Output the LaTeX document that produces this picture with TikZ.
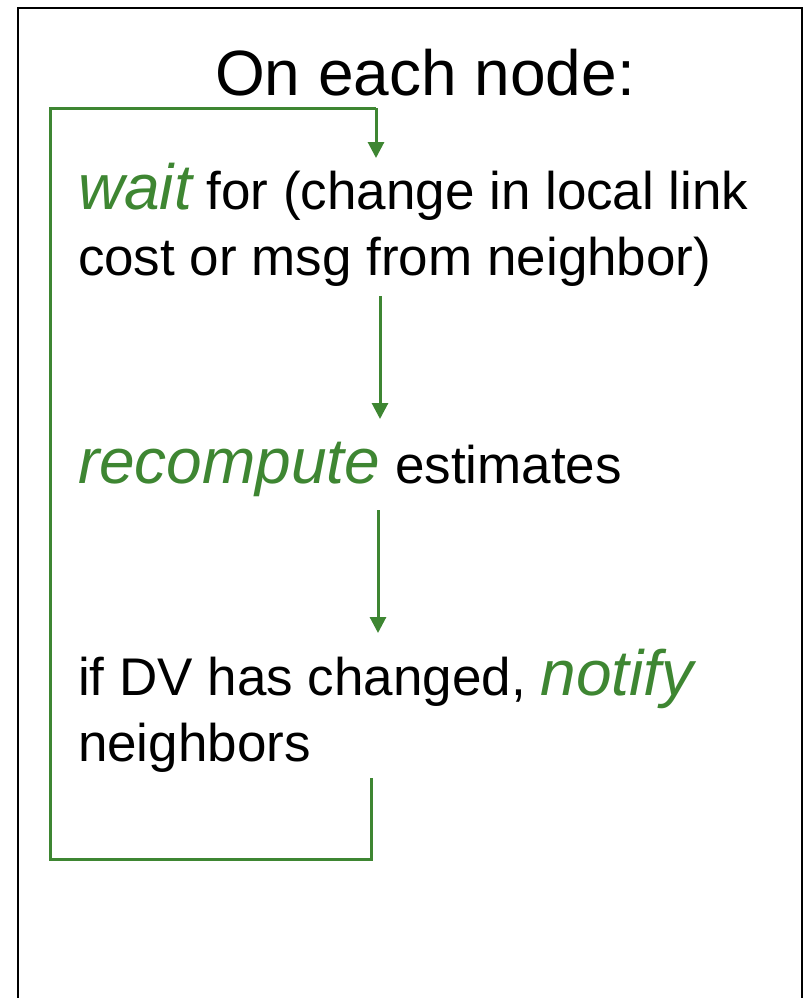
\documentclass[tikz,border=0pt]{standalone}
\usepackage{fontspec}
\setmainfont{Liberation Sans}
\usetikzlibrary{arrows.meta}
\definecolor{grn}{RGB}{62,134,50}
\tikzset{
  txt/.style={anchor=base west, inner sep=0pt, outer sep=0pt, align=left},
  flow/.style={draw=grn, line width=3pt, -{Triangle[width=16pt,length=16pt]}},
  loopline/.style={draw=grn, line width=3pt},
  frame/.style={draw=black, line width=1.5pt}
}
\newcommand{\bodyfont}{\fontsize{53}{66}\selectfont}
\newcommand{\hl}[1]{{\color{grn}\fontsize{64}{66}\selectfont\itshape #1}}
\begin{document}
\begin{tikzpicture}[x=1pt,y=-1pt]
\useasboundingbox (0,0) rectangle (804,998);
% frame (open at the bottom)
\coordinate (f1) at (18,1010);
\coordinate (f2) at (18,8);
\coordinate (f3) at (802,8);
\coordinate (f4) at (802,1010);
\draw[frame] (f1) -- (f2) -- (f3) -- (f4);
% title
\node[anchor=base, inner sep=0pt] (title) at (425,95) {\fontsize{64}{64}\selectfont On each node:};
% texts
\node[txt] (w1) at (78,209) {\hl{wait}\bodyfont{} for (change in local link};
\node[txt] (w2) at (78,275) {\bodyfont cost or msg from neighbor)};
\node[txt] (r1) at (78,483) {\hl{recompute}\bodyfont{} estimates};
\node[txt] (n1) at (78,695) {\bodyfont if DV has changed, \hl{notify}};
\node[txt] (n2) at (78,761) {\bodyfont neighbors};
% connector coordinates
\coordinate (a2s) at (380,296);
\coordinate (a2e) at (380,419);
\coordinate (a3s) at (378,510);
\coordinate (a3e) at (378,633);
\coordinate (lb0) at (371,778);
\coordinate (lb1) at (371,859);
\coordinate (lb2) at (50,859);
\coordinate (lb3) at (50,108);
\coordinate (lb4) at (376,108);
\coordinate (lb5) at (376,158);
\draw[flow] (a2s) -- (a2e);
\draw[flow] (a3s) -- (a3e);
\draw[loopline] (lb0) -- (lb1) -- (lb2) -- (lb3) -- (lb4);
\draw[flow] (lb4) -- (lb5);
\end{tikzpicture}
\end{document}
